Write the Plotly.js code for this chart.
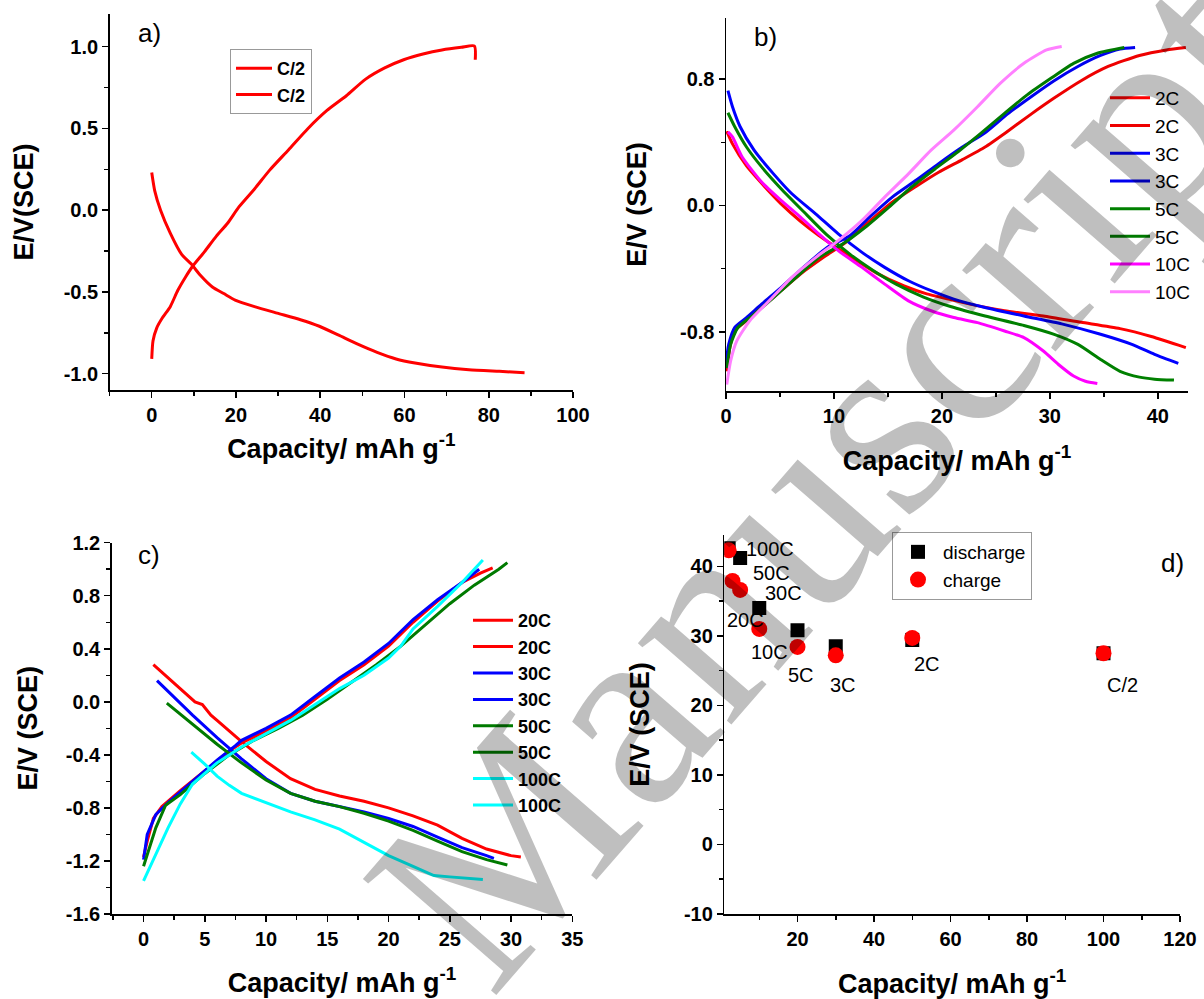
<!DOCTYPE html>
<html><head><meta charset="utf-8">
<script src="https://cdn.plot.ly/plotly-3.0.1.min.js"></script>
<style>html,body{margin:0;padding:0;background:#fff}#chart{width:1204px;height:999px}</style>
</head><body><div id="chart"></div>
<script>
// ---------- Panel a (C/2) ----------
const aDisX = [0, 0.7, 2.1, 4.4, 7.1, 9.4, 11.6, 14.4, 17.1, 19.8, 24.4, 29.8, 35.3, 39.8, 44.4, 48.9, 53.5, 58, 62.5, 68.9, 75.3, 82.5, 88.5];
const aDisY = [0.23, 0.12, 0.0, -0.14, -0.27, -0.33, -0.40, -0.47, -0.51, -0.55, -0.59, -0.63, -0.67, -0.71, -0.765, -0.82, -0.87, -0.91, -0.935, -0.96, -0.976, -0.986, -0.994];
const aChgX = [0, 0.3, 1.2, 2.5, 4.4, 6.2, 8, 9.8, 12.5, 15.3, 18, 20.7, 24.4, 28, 32.5, 37.1, 41.6, 46.2, 50.7, 55.3, 59.8, 64.4, 68.9, 73.5, 76.6, 76.8];
const aChgY = [-0.91, -0.80, -0.72, -0.66, -0.59, -0.49, -0.41, -0.34, -0.255, -0.16, -0.08, 0.02, 0.13, 0.245, 0.37, 0.5, 0.61, 0.70, 0.80, 0.87, 0.92, 0.955, 0.98, 0.996, 1.004, 0.92];
const aNames = ["C/2", "C/2"];

// ---------- Panel b (2C, 3C, 5C, 10C) ----------
const bNames = ["2C", "2C", "3C", "3C", "5C", "5C", "10C", "10C"];
const b2dX = [0.07,0.6,1.9,3.3,5.1,6.9,8.6,10.1,11.9,14,16.5,18.6,20.4,22.6,25.8,29.4,32.9,36.5,39.4,42.6];
const b2dY = [0.47,0.39,0.25,0.14,0.01,-0.10,-0.19,-0.26,-0.34,-0.43,-0.51,-0.56,-0.59,-0.625,-0.667,-0.70,-0.74,-0.78,-0.83,-0.90];
const b2cX = [0.07,0.36,0.8,1.9,3.3,5.1,6.9,9,11.1,13.3,15.4,17.6,19.7,21.9,24,26.1,28.3,30.4,32.9,35.4,38.3,40.8,42.6];
const b2cY = [-1.05,-0.90,-0.795,-0.73,-0.646,-0.54,-0.434,-0.33,-0.233,-0.10,0.02,0.12,0.21,0.29,0.37,0.47,0.58,0.68,0.79,0.88,0.95,0.985,1.0];
const b3dX = [0.18,0.6,1.3,2.6,4.4,6.1,8.3,10.4,12.6,14.7,16.9,19,21.1,24,27.6,31.1,34.7,37.6,39.7,41.9];
const b3dY = [0.727,0.625,0.50,0.35,0.20,0.074,-0.053,-0.18,-0.297,-0.392,-0.477,-0.54,-0.593,-0.646,-0.70,-0.75,-0.816,-0.88,-0.943,-1.0];
const b3cX = [0,0.25,0.8,1.9,3.3,5.1,7.2,9.4,11.5,13.3,15.4,17.6,19.7,21.9,24,26.1,28.3,30.4,32.6,34.7,36.5,37.9];
const b3cY = [-1.0,-0.88,-0.773,-0.71,-0.625,-0.52,-0.39,-0.265,-0.19,-0.074,0.053,0.159,0.265,0.37,0.46,0.58,0.69,0.79,0.88,0.95,0.99,1.0];
const b5dX = [0.18,0.8,1.9,3.3,5.1,7.2,9.4,11.5,13.6,15.8,18.3,20.8,24,27.6,30.4,32.6,34.7,36.5,38.3,39.7,41.5];
const b5dY = [0.587,0.50,0.37,0.244,0.106,-0.04,-0.19,-0.31,-0.41,-0.50,-0.58,-0.64,-0.70,-0.76,-0.816,-0.88,-0.975,-1.05,-1.087,-1.10,-1.106];
const b5cX = [0.07,0.43,1.1,2.6,4.4,6.5,8.6,10.8,12.9,15.1,17.2,19.4,21.5,23.6,25.8,27.9,30.1,32.2,34.4,36.9];
const b5cY = [-1.03,-0.88,-0.773,-0.69,-0.583,-0.455,-0.33,-0.244,-0.138,-0.01,0.117,0.233,0.34,0.456,0.583,0.70,0.805,0.90,0.964,1.0];
const b10dX = [0.18,0.6,1.5,3.3,5.1,6.9,8.6,10.4,12.6,14.7,16.9,19,21.1,23.3,25.8,27.6,29.4,30.8,32.2,33.3,34.4];
const b10dY = [0.466,0.434,0.307,0.148,0.032,-0.074,-0.18,-0.286,-0.392,-0.498,-0.604,-0.667,-0.71,-0.742,-0.795,-0.837,-0.922,-1.007,-1.08,-1.113,-1.127];
const b10cX = [0.07,0.43,1,2.2,4,6.1,8.3,10.4,12.6,14.7,16.9,19,21.1,23.3,25.4,27.6,29.7,31.1];
const b10cY = [-1.134,-0.985,-0.858,-0.73,-0.604,-0.455,-0.33,-0.223,-0.095,0.053,0.2,0.35,0.477,0.625,0.773,0.90,0.985,1.007];

// ---------- Panel c (20C, 30C, 50C, 100C) ----------
const cNames = ["20C", "20C", "30C", "30C", "50C", "50C", "100C", "100C"];
const c20dX = [0.8, 2, 3.5, 4.2, 4.8, 5.5, 6, 8, 10, 12, 14, 16, 18, 20, 22, 24, 26, 28, 30, 30.8];
const c20dY = [0.28, 0.18, 0.06, 0.0, -0.02, -0.1, -0.14, -0.3, -0.45, -0.58, -0.66, -0.71, -0.75, -0.8, -0.86, -0.93, -1.03, -1.11, -1.16, -1.17];
const c20cX = [0, 0.3, 0.8, 1.5, 3, 5, 7, 8, 10, 12, 14, 16, 18, 20, 22, 24, 26, 27.5, 28.5];
const c20cY = [-1.17, -1.05, -0.88, -0.79, -0.67, -0.52, -0.37, -0.31, -0.22, -0.12, 0.02, 0.16, 0.28, 0.42, 0.6, 0.76, 0.9, 0.97, 1.01];
const c30dX = [1.1, 2, 4, 6, 8, 10, 12, 14, 16, 18, 20, 22, 24, 26, 28, 28.6];
const c30dY = [0.16, 0.08, -0.1, -0.27, -0.43, -0.58, -0.69, -0.75, -0.79, -0.83, -0.88, -0.94, -1.02, -1.1, -1.16, -1.18];
const c30cX = [0, 0.3, 1, 2, 4, 6, 7.5, 8, 10, 12, 14, 16, 18, 20, 22, 24, 26, 27.4];
const c30cY = [-1.19, -1.0, -0.85, -0.76, -0.6, -0.44, -0.33, -0.29, -0.2, -0.1, 0.04, 0.18, 0.3, 0.44, 0.62, 0.77, 0.9, 1.0];
const c50dX = [1.9, 4, 6, 8, 10, 12, 14, 16, 18, 20, 22, 24, 26, 28, 29.7];
const c50dY = [-0.01, -0.17, -0.32, -0.46, -0.59, -0.69, -0.75, -0.79, -0.84, -0.9, -0.97, -1.05, -1.13, -1.19, -1.23];
const c50cX = [0, 0.5, 1, 1.8, 3, 5, 7, 9, 11, 13, 15, 17, 19, 21, 23, 25, 27, 29, 29.7];
const c50cY = [-1.24, -1.1, -0.95, -0.78, -0.7, -0.54, -0.4, -0.29, -0.2, -0.1, 0.02, 0.15, 0.28, 0.42, 0.58, 0.74, 0.88, 1.0, 1.05];
const c100dX = [3.9, 5, 6, 7, 8, 10, 12, 14, 16, 18, 20, 22, 23.7, 25, 27.7];
const c100dY = [-0.38, -0.47, -0.56, -0.63, -0.69, -0.76, -0.83, -0.89, -0.96, -1.06, -1.16, -1.24, -1.31, -1.32, -1.34];
const c100cX = [0, 1, 2, 3, 4, 5, 6, 8, 10, 12, 14, 16, 18, 20, 21, 22, 24, 26, 27.7];
const c100cY = [-1.35, -1.15, -0.95, -0.77, -0.62, -0.54, -0.46, -0.34, -0.24, -0.14, -0.02, 0.1, 0.2, 0.33, 0.42, 0.55, 0.72, 0.9, 1.07];

// ---------- Panel d (capacity vs rate) ----------
const dDisX = [2, 5, 10, 20, 30, 50, 100];
const dDisY = [42.6, 41.2, 34.0, 30.8, 28.5, 29.4, 27.5];
const dChgX = [2, 3, 5, 10, 20, 30, 50, 100];
const dChgY = [42.3, 37.9, 36.6, 31.0, 28.4, 27.2, 29.7, 27.5];
const dLabels = ["100C", "50C", "30C", "20C", "10C", "5C", "3C", "2C", "C/2"];
const dLabelX = [12.9, 13.2, 16.4, 6.4, 12.8, 20.9, 31.9, 53.9, 105];
const dLabelY = [42.5, 39.0, 36.1, 32.3, 27.7, 24.3, 22.9, 26.0, 22.9];

// ---------- tick labels ----------
const aYTicks = [-1, -0.5, 0, 0.5, 1], aYText = ["-1.0", "-0.5", "0.0", "0.5", "1.0"];
const aXTicks = [0, 20, 40, 60, 80, 100];
const bYTicks = [-0.8, 0, 0.8], bYText = ["-0.8", "0.0", "0.8"];
const bXTicks = [0, 10, 20, 30, 40];
const cYTicks = [-1.6, -1.2, -0.8, -0.4, 0, 0.4, 0.8, 1.2], cYText = ["-1.6", "-1.2", "-0.8", "-0.4", "0.0", "0.4", "0.8", "1.2"];
const cXTicks = [0, 5, 10, 15, 20, 25, 30, 35];
const dYTicks = [-10, 0, 10, 20, 30, 40], dYText = ["-10", "0", "10", "20", "30", "40"];
const dXTicks = [20, 40, 60, 80, 100, 120];

const FONT = "Liberation Sans, Arial, sans-serif";
function ln(x, y, color, name, ax, legend, smooth) {
  return {type: "scatter", mode: "lines", x: x, y: y, name: name,
          line: smooth ? {color: color, width: 3, shape: "spline", smoothing: 0.6} : {color: color, width: 3},
          xaxis: "x" + ax, yaxis: "y" + ax, legend: legend, hoverinfo: "skip"};
}
const traces = [
  ln(aDisX, aDisY, "#ff0000", aNames[0], "", "legend", true),
  ln(aChgX, aChgY, "#ff0000", aNames[1], "", "legend", true),
  ln(b2dX, b2dY, "#ff0000", bNames[0], "2", "legend2", true),
  ln(b2cX, b2cY, "#ee0000", bNames[1], "2", "legend2", true),
  ln(b3dX, b3dY, "#0000ff", bNames[2], "2", "legend2", true),
  ln(b3cX, b3cY, "#0000ee", bNames[3], "2", "legend2", true),
  ln(b5dX, b5dY, "#008000", bNames[4], "2", "legend2", true),
  ln(b5cX, b5cY, "#007a00", bNames[5], "2", "legend2", true),
  ln(b10dX, b10dY, "#ff00ff", bNames[6], "2", "legend2", true),
  ln(b10cX, b10cY, "#ff80ff", bNames[7], "2", "legend2", true),
  ln(c20dX, c20dY, "#ff0000", cNames[0], "3", "legend3", false),
  ln(c20cX, c20cY, "#ff0000", cNames[1], "3", "legend3", false),
  ln(c30dX, c30dY, "#0000ff", cNames[2], "3", "legend3", false),
  ln(c30cX, c30cY, "#0000ff", cNames[3], "3", "legend3", false),
  ln(c50dX, c50dY, "#007a00", cNames[4], "3", "legend3", false),
  ln(c50cX, c50cY, "#007a00", cNames[5], "3", "legend3", false),
  ln(c100dX, c100dY, "#00ffff", cNames[6], "3", "legend3", false),
  ln(c100cX, c100cY, "#00ffff", cNames[7], "3", "legend3", false),
  {type: "scatter", mode: "markers", x: dDisX, y: dDisY, name: "discharge", xaxis: "x4", yaxis: "y4", legend: "legend4",
   marker: {symbol: "square", size: 14, color: "#000000"}, hoverinfo: "skip"},
  {type: "scatter", mode: "markers", x: dChgX, y: dChgY, name: "charge", xaxis: "x4", yaxis: "y4", legend: "legend4",
   marker: {symbol: "circle", size: 16, color: "#ff0000"}, hoverinfo: "skip"}
];

function axis(o) {
  return Object.assign({
    showline: true, linecolor: "#000", linewidth: 1.5, mirror: false,
    ticks: "outside", ticklen: 6, tickwidth: 1.5, tickcolor: "#000",
    showgrid: false, zeroline: false, automargin: false, fixedrange: true,
    tickfont: {family: FONT, size: 20, weight: "bold", color: "#000"},
    tickmode: "array"
  }, o);
}
function ttl(text, standoff) {
  return {text: text, standoff: standoff, font: {family: FONT, size: 27, weight: "bold", color: "#000"}};
}
const capTitle = "Capacity/ mAh g<sup>-1</sup>";
const minor = (d) => ({dtick: d, tick0: 0, ticklen: 4, tickwidth: 1.5, tickcolor: "#000", ticks: "outside"});

const W = 1204, H = 999;
const dom = (a, b, n) => n === "x" ? [a / W, b / W] : [1 - b / H, 1 - a / H];

const annotations = [
  {text: "a)", x: 149 / W, y: 1 - 33 / H},
  {text: "b)", x: 765 / W, y: 1 - 37 / H},
  {text: "c)", x: 149 / W, y: 1 - 555 / H},
  {text: "d)", x: 1172 / W, y: 1 - 563 / H}
].map(a => Object.assign(a, {xref: "paper", yref: "paper", showarrow: false, xanchor: "center", yanchor: "middle",
                              font: {family: FONT, size: 26, color: "#000"}}));
dLabels.forEach((t, i) => annotations.push({text: t, x: dLabelX[i], y: dLabelY[i], xref: "x4", yref: "y4",
  showarrow: false, xanchor: "center", yanchor: "middle", font: {family: FONT, size: 20, color: "#000"}}));
annotations.push({text: "Manuscript", xref: "paper", yref: "paper", x: 826 / W, y: 1 - 477 / H,
  xanchor: "center", yanchor: "middle",
  showarrow: false, textangle: -49, font: {family: "Liberation Serif, Times New Roman, serif", size: 270, color: "rgba(0,0,0,0.25)"}});

const layout = {
  width: W, height: H, margin: {l: 0, r: 0, t: 0, b: 0},
  paper_bgcolor: "#fff", plot_bgcolor: "#fff", font: {family: FONT, color: "#000"},
  showlegend: true, hovermode: false,
  xaxis: axis({domain: dom(109.6, 573, "x"), range: [-10, 100], tickvals: aXTicks, anchor: "y", minor: minor(10), title: ttl(capTitle, 14)}),
  yaxis: axis({domain: dom(14, 390, "y"), range: [-1.1, 1.2], tickvals: aYTicks, ticktext: aYText, anchor: "x", minor: minor(0.25), title: ttl("E/V(SCE)", 22)}),
  xaxis2: axis({domain: dom(726, 1188, "x"), range: [0, 42.8], tickvals: bXTicks, anchor: "y2", minor: minor(5), title: ttl(capTitle, 25)}),
  yaxis2: axis({domain: dom(18, 391, "y"), range: [-1.175, 1.187], tickvals: bYTicks, ticktext: bYText, anchor: "x2", minor: minor(0.4), title: ttl("E/V (SCE)", 25)}),
  xaxis3: axis({domain: dom(111.7, 572.3, "x"), range: [-2.6, 35], tickvals: cXTicks, anchor: "y3", minor: minor(2.5), title: ttl(capTitle, 24)}),
  yaxis3: axis({domain: dom(542.7, 914, "y"), range: [-1.6, 1.2], tickvals: cYTicks, ticktext: cYText, anchor: "x3", minor: minor(0.2), title: ttl("E/V (SCE)", 20)}),
  xaxis4: axis({domain: dom(724.3, 1180, "x"), range: [0.86, 120], tickvals: dXTicks, anchor: "y4", minor: minor(10), title: ttl(capTitle, 28)}),
  yaxis4: axis({domain: dom(535, 914, "y"), range: [-10, 44.5], tickvals: dYTicks, ticktext: dYText, anchor: "x4", minor: minor(5), title: ttl("E/V (SCE)", 26)}),
  legend: {x: 230 / W, y: 1 - 49 / H, xanchor: "left", yanchor: "top", bgcolor: "#fff", bordercolor: "#999", borderwidth: 1,
           font: {family: FONT, size: 18, weight: "bold", color: "#000"}, itemwidth: 36},
  legend2: {x: 1105 / W, y: 1 - 79 / H, xanchor: "left", yanchor: "top", bgcolor: "rgba(0,0,0,0)",
            font: {family: FONT, size: 19, color: "#000"}, itemwidth: 40},
  legend3: {x: 468 / W, y: 1 - 602 / H, xanchor: "left", yanchor: "top", bgcolor: "rgba(0,0,0,0)",
            font: {family: FONT, size: 18, weight: "bold", color: "#000"}, itemwidth: 40},
  legend4: {x: 892 / W, y: 1 - 532 / H, xanchor: "left", yanchor: "top", bgcolor: "#fff", bordercolor: "#999", borderwidth: 1,
            font: {family: FONT, size: 19, color: "#000"}, itemwidth: 40},
  annotations: annotations
};
Plotly.newPlot("chart", traces, layout, {displayModeBar: false, staticPlot: true});
</script></body></html>
